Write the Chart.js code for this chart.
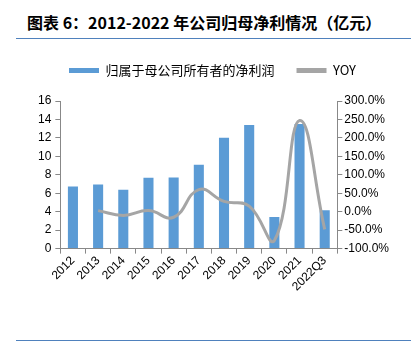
<!DOCTYPE html>
<html lang="zh">
<head>
    <meta charset="UTF-8">
    <script src="https://cdn.jsdelivr.net/npm/chart.js"></script>
    <title>归母净利情况</title>
    <style>
        body {
            margin: 0;
            padding: 0;
            background: #fff;
            width: 411px;
            height: 348px;
            position: relative;
            overflow: hidden;
        }
        .title {
            position: absolute;
            left: 27px;
            top: 12px;
            font-family: 'Noto Sans CJK SC', 'Liberation Sans', sans-serif;
            font-weight: bold;
            font-size: 16px;
            line-height: 20px;
            color: #000;
            white-space: nowrap;
        }
        .rule {
            position: absolute;
            left: 16px;
            width: 395px;
            height: 1px;
            background: #4f81bd;
        }
        .chart-box {
            position: absolute;
            left: 0;
            top: 42px;
            width: 411px;
            height: 252px;
        }
    </style>
</head>
<body>
    <div class="title">图表 6：2012-2022 年公司归母净利情况（亿元）</div>
    <div class="rule" style="top:38px"></div>
    <div class="chart-box"><canvas id="profitChart"></canvas></div>
    <div class="rule" style="top:340px"></div>
    <script>
        // 数据
        const categories = ['2012', '2013', '2014', '2015', '2016', '2017', '2018', '2019', '2020', '2021', '2022Q3'];
        const netProfit = [6.73, 6.95, 6.38, 7.67, 7.70, 9.10, 12.03, 13.40, 3.44, 13.50, 4.16];
        const yoy = [null, 3, -10, 3, -15, 60, 28, 15, -78, 247, -48];
        const leftTicks = [0, 2, 4, 6, 8, 10, 12, 14, 16];
        const rightTicks = [-100, -50, 0, 50, 100, 150, 200, 250, 300];

        const axisColor = '#888';
        const tickFont = { family: 'Liberation Sans, Arial, sans-serif', size: 12 };

        // 图例下方留出空白
        const legendSpace = {
            id: 'legendSpace',
            beforeInit: function(chart) {
                const origFit = chart.legend.fit;
                chart.legend.fit = function() {
                    origFit.bind(chart.legend)();
                    this.height += 14;
                };
            }
        };

        const ctx = document.getElementById('profitChart').getContext('2d');
        const chart = new Chart(ctx, {
            type: 'bar',
            data: {
                labels: categories,
                datasets: [{
                    type: 'line',
                    label: 'YOY',
                    data: yoy,
                    yAxisID: 'y1',
                    borderColor: '#a5a5a5',
                    backgroundColor: '#a5a5a5',
                    borderWidth: 3,
                    pointRadius: 0,
                    tension: 0.45,
                    order: 1
                }, {
                    label: '归属于母公司所有者的净利润',
                    data: netProfit,
                    yAxisID: 'y',
                    backgroundColor: '#5b9bd5',
                    barPercentage: 0.4,
                    categoryPercentage: 1,
                    order: 2
                }]
            },
            plugins: [legendSpace],
            options: {
                responsive: true,
                maintainAspectRatio: false,
                animation: false,
                layout: { padding: { left: 34, right: 20, top: 0, bottom: 0 } },
                plugins: {
                    tooltip: { enabled: false },
                    legend: {
                        position: 'top',
                        labels: {
                            boxWidth: 30,
                            boxHeight: 5,
                            padding: 22,
                            color: '#222',
                            font: { family: 'Noto Sans CJK SC, sans-serif', size: 13 },
                            generateLabels: function(c) {
                                return c.data.datasets.map(function(ds, i) {
                                    return {
                                        text: ds.label,
                                        fillStyle: ds.backgroundColor,
                                        strokeStyle: ds.backgroundColor,
                                        lineWidth: 0,
                                        datasetIndex: i
                                    };
                                }).reverse();
                            }
                        }
                    }
                },
                scales: {
                    x: {
                        grid: { display: true, drawOnChartArea: false, color: axisColor, tickLength: 5 },
                        border: { color: axisColor, width: 1 },
                        ticks: { color: '#000', font: tickFont, maxRotation: 45, minRotation: 45, padding: 0 }
                    },
                    y: {
                        position: 'left',
                        min: 0,
                        max: 16,
                        afterBuildTicks: function(axis) { axis.ticks = leftTicks.map(v => ({ value: v })); },
                        grid: { drawOnChartArea: false, color: axisColor, tickLength: 5 },
                        border: { color: axisColor, width: 1 },
                        ticks: { color: '#000', font: tickFont, padding: 4 }
                    },
                    y1: {
                        position: 'right',
                        min: -100,
                        max: 300,
                        afterBuildTicks: function(axis) { axis.ticks = rightTicks.map(v => ({ value: v })); },
                        grid: { drawOnChartArea: false, color: axisColor, tickLength: 5 },
                        border: { color: axisColor, width: 1 },
                        ticks: {
                            color: '#000',
                            font: tickFont,
                            padding: 2,
                            callback: function(v) { return v.toFixed(1) + '%'; }
                        }
                    }
                }
            }
        });
    </script>
</body>
</html>
